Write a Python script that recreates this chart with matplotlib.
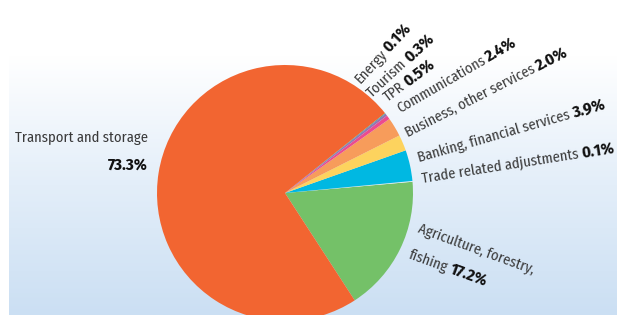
import numpy as np
import matplotlib
matplotlib.use('Agg')
from matplotlib import pyplot as plt
from matplotlib.colors import LinearSegmentedColormap

# sectors, counter-clockwise starting from the green one
sectors = ['Agriculture, forestry,\nfishing', 'Trade related adjustments',
           'Banking, financial services', 'Business, other services',
           'Communications', 'TPR', 'Tourism', 'Energy', 'Transport and storage']
shares = [17.2, 0.1, 3.9, 2.0, 2.4, 0.5, 0.3, 0.1, 73.3]
colors = ['#74C168', '#E8EEF5', '#00B8E2', '#FDD35E', '#F79C5B',
          '#EC4B8E', '#9B6FB0', '#1FA7A1', '#F26531']

W, H = 617, 315
plt.rcParams['font.family'] = ['Fira Sans Condensed', 'DejaVu Sans']

fig = plt.figure(figsize=(W / 100, H / 100), dpi=100)
ax = fig.add_axes([0, 0, 1, 1])
ax.set_xlim(0, W)
ax.set_ylim(0, H)
ax.axis('off')

# background gradient panel
grad = np.linspace(0, 1, 256).reshape(-1, 1)
cmap = LinearSegmentedColormap.from_list('bg', ['#CBDFF3', '#E3EEF9', '#FFFFFF'])
ax.imshow(grad, cmap=cmap, extent=[9, W, 0, H - 55], aspect='auto',
          origin='lower', zorder=0)

ax.pie(shares, colors=colors, startangle=-57, counterclock=True,
       center=(285, H - 193), radius=128, frame=True,
       wedgeprops=dict(linewidth=0))
ax.set_xlim(0, W)
ax.set_ylim(0, H)
ax.set_aspect('auto')
ax.axis('off')

fs = 10.5
fs_b = 12
txt_col = '#3A3A3A'
renderer = fig.canvas.get_renderer()


def label(x, y, name, pct, rot):
    y = H - y
    t = ax.text(x, y, name, rotation=0, ha='left', va='baseline',
                fontsize=fs, color=txt_col)
    w = t.get_window_extent(renderer).width + 3
    t.set_rotation(rot)
    t.set_rotation_mode('anchor')
    a = np.deg2rad(rot)
    ax.text(x + w * np.cos(a), y + w * np.sin(a), pct, rotation=rot,
            rotation_mode='anchor', ha='left', va='baseline', fontsize=fs_b,
            fontweight='bold', color='#111111')


label(360, 84, sectors[7], '%.1f%%' % shares[7], 47)
label(372, 98, sectors[6], '%.1f%%' % shares[6], 43)
label(388, 102, sectors[5], '%.1f%%' % shares[5], 37)
label(400, 113, sectors[4], '%.1f%%' % shares[4], 30)
label(408, 137, sectors[3], '%.1f%%' % shares[3], 27)
label(419, 162, sectors[2], '%.1f%%' % shares[2], 16)
label(423, 183, sectors[1], '%.1f%%' % shares[1], 9)

# agriculture, two lines
ax.text(417, H - 232, sectors[0].split('\n')[0], rotation=-20,
        rotation_mode='anchor', ha='left', va='baseline', fontsize=fs,
        color=txt_col)
label(408, 258, sectors[0].split('\n')[1], '%.1f%%' % shares[0], -20)

ax.text(148, H - 142, sectors[8], ha='right', va='baseline', fontsize=fs,
        color=txt_col)
ax.text(148, H - 170, '%.1f%%' % shares[8], ha='right', va='baseline',
        fontsize=fs_b, fontweight='bold', color='#111111')

fig.savefig('out.png', dpi=100)
